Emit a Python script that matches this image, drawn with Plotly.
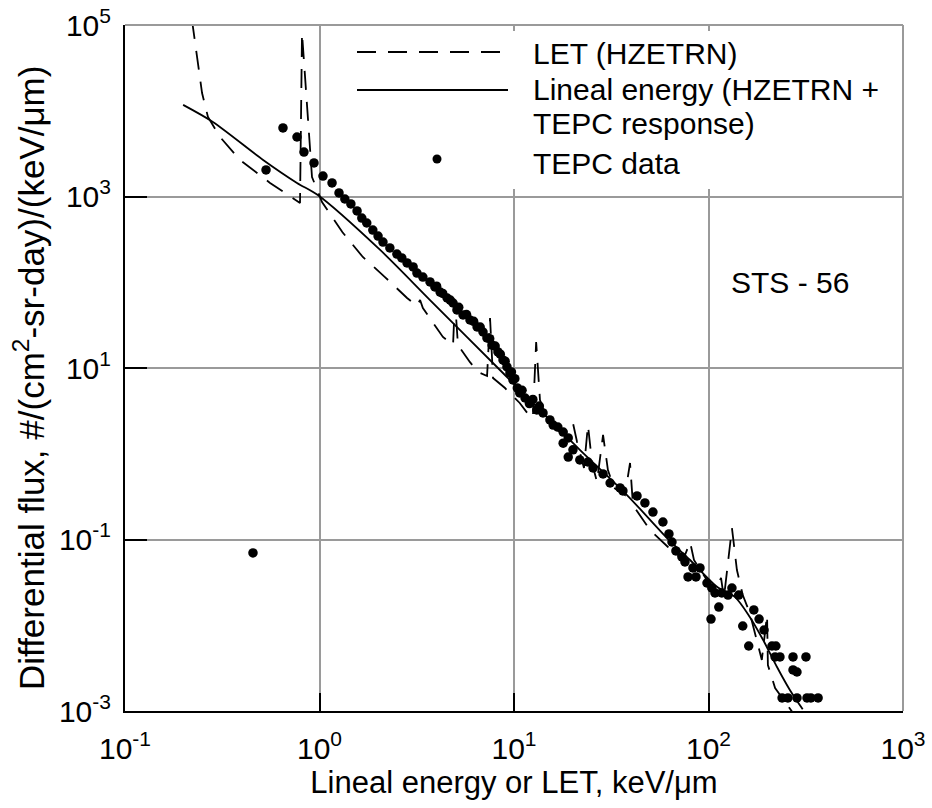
import plotly.graph_objects as go

# ---------------- data ----------------
# LET (HZETRN) - dashed curve
let_x = [0.221, 0.2344, 0.249, 0.267, 0.308, 0.390, 0.557, 0.794, 0.813, 0.915, 1.03,
         1.31, 1.67, 2.17, 2.82, 3.17, 3.29, 3.40, 4.31, 4.86, 4.97, 5.15, 5.94, 6.53,
         7.27, 7.53, 7.80, 8.99, 10.7, 11.7, 12.5, 13.0, 13.6, 14.8, 17.2, 20.1, 21.1,
         22.9, 24.0, 25.2, 26.7, 28.7, 30.4, 32.7, 37.2, 39.5, 40.9, 50.0, 61.9, 74.0,
         80.4, 84.2, 102, 109, 116, 120, 132, 140, 150, 163, 188, 200, 202, 220, 279]
let_y = [114000, 42400, 16100, 8460, 4940, 2670, 1440, 840, 80700, 1690, 863,
         385, 197, 115, 65.5, 52.9, 62.1, 50.1, 23.0, 18.5, 62.1, 18.5, 11.7, 8.98,
         8.07, 38.3, 7.64, 5.84, 3.91, 2.99, 2.61, 20.1, 4.24, 2.48, 1.79, 2.28, 1.37,
         0.682, 2.16, 0.780, 0.469, 1.66, 0.646, 0.399, 0.330, 0.780, 0.252, 0.129, 0.0818, 0.0577,
         0.0935, 0.0577, 0.0294, 0.0258, 0.0356, 0.0208, 0.136, 0.0441, 0.0225, 0.0139, 0.00394,
         0.0132, 0.00344, 0.00185, 0.000875]

# Lineal energy (HZETRN + TEPC response) - solid curve
lin_x = [0.199, 0.283, 0.513, 0.766, 0.98, 2.05, 3.70, 8.27, 21.8, 38.1, 61.2, 80.4,
         111, 137, 163, 191, 225, 262, 305]
lin_y = [11700, 7390, 2670, 1440, 1040, 238, 62.0, 10.0, 1.11, 0.330, 0.104, 0.0577,
         0.0279, 0.0213, 0.0125, 0.00673, 0.00326, 0.00176, 0.00105]

# TEPC data - dots
tepc_x = [0.455, 0.531, 0.649, 0.766, 0.832, 0.937, 1.042, 1.16, 1.26, 1.35, 1.45, 1.56,
          1.65, 1.75, 1.88, 2.0, 2.12, 2.30, 2.50, 2.65, 2.82, 3.03, 3.17, 3.40, 3.70,
          3.92, 4.0, 4.17, 4.3, 4.53, 4.7, 4.86, 5.09, 5.2, 5.47, 5.7, 5.94, 6.2, 6.46,
          6.7, 6.93, 7.26, 7.5, 7.71, 8.0, 8.27, 8.5, 8.78, 9.0, 9.20, 9.53, 9.7, 9.88,
          10.1, 10.4, 10.7, 11.0, 11.4, 12.0, 12.5, 13.1, 13.5, 14.1, 15.3, 15.9, 16.8,
          17.9, 19.0, 17.9, 20.1, 19.0, 21.8, 24.0, 25.5, 28.7, 31.2, 35.1, 36.3, 42.9,
          47.1, 51.8, 58.3, 62.6, 64.9, 68.0, 73.0, 75.7, 83.2, 90.4, 78.5, 86.2, 98.2,
          104, 108, 117, 126, 132, 143, 113, 103, 171, 182, 193, 150, 161, 212, 222,
          220, 233, 272, 317, 272, 285, 239, 256, 285, 321, 336, 366]
tepc_y = [0.0697, 2040, 6300, 4940, 3300, 2460, 1730, 1440, 1100, 935, 818, 678,
          561, 491, 406, 346, 294, 251, 213, 192, 168, 151, 128, 115, 101,
          88.1, 90, 76.9, 74, 65.5, 62, 57.3, 47.5, 51, 41.5, 42, 36.3, 35, 30.1,
          30, 26.3, 22.4, 22, 18.5, 18, 15.4, 14.5, 12.4, 12, 10.3, 8.75, 9.0, 7.25,
          7.5, 5.85, 5.11, 5.5, 4.47, 3.85, 4.3, 3.24, 3.6, 2.99, 2.48, 2.16, 2.05,
          1.79, 1.53, 1.33, 1.11, 0.916, 0.846, 0.801, 0.682, 0.581, 0.456, 0.399, 0.368, 0.322,
          0.267, 0.209, 0.160, 0.116, 0.0935, 0.0735, 0.0625, 0.0547, 0.0466, 0.0466, 0.0366, 0.0366, 0.0311,
          0.0272, 0.0238, 0.0238, 0.0225, 0.0272, 0.0225, 0.0163, 0.0118, 0.0151, 0.0118, 0.0088, 0.0098, 0.00573, 0.00573, 0.00573,
          0.00427, 0.00427, 0.00427, 0.00427, 0.00301, 0.00285, 0.00142, 0.00142, 0.00142, 0.00142, 0.00142, 0.00142]

x_tickvals = [0.1, 1, 10, 100, 1000]
x_ticktext = ["10<sup>-1</sup>", "10<sup>0</sup>", "10<sup>1</sup>", "10<sup>2</sup>", "10<sup>3</sup>"]
y_tickvals = [0.001, 0.1, 10, 1000, 100000]
y_ticktext = ["10<sup>-3</sup>", "10<sup>-1</sup>", "10<sup>1</sup>", "10<sup>3</sup>", "10<sup>5</sup>"]

legend_labels = ["LET (HZETRN)", "Lineal energy (HZETRN +", "TEPC response)", "TEPC data"]
panel_label = "STS - 56"
x_title = "Lineal energy or LET, keV/\u03bcm"
y_title = "Differential flux, #/(cm<sup>2</sup>-sr-day)/(keV/\u03bcm)"

# ---------------- figure ----------------
FONT = "Liberation Sans, Arial, Helvetica, sans-serif"
DASH = "19px,12px"

fig = go.Figure()
fig.add_trace(go.Scatter(x=let_x, y=let_y, mode="lines",
                         line=dict(color="black", width=1.8, dash=DASH),
                         name=legend_labels[0]))
fig.add_trace(go.Scatter(x=lin_x, y=lin_y, mode="lines",
                         line=dict(color="black", width=1.8, shape="spline", smoothing=0.8),
                         name="Lineal energy"))
fig.add_trace(go.Scatter(x=tepc_x, y=tepc_y, mode="markers",
                         marker=dict(color="black", size=9.5),
                         name=legend_labels[3]))

W, H = 932, 808
ml, mr, mt, mb = 125, 29, 25, 97
pw, ph = W - ml - mr, H - mt - mb


def px(xp):
    return (xp - ml) / pw


def py(yp):
    return (H - mb - yp) / ph


shapes = [
    # grey frame on top and right
    dict(type="line", xref="paper", yref="paper", x0=0, x1=1, y0=1, y1=1,
         line=dict(color="#9a9a9a", width=2), layer="above"),
    dict(type="line", xref="paper", yref="paper", x0=1, x1=1, y0=0, y1=1,
         line=dict(color="#9a9a9a", width=2), layer="above"),
    # legend background
    dict(type="rect", xref="paper", yref="paper", x0=px(345), x1=px(896), y0=py(189), y1=py(31),
         fillcolor="white", line=dict(width=0), layer="above"),
    # legend samples
    dict(type="line", xref="paper", yref="paper", x0=px(357), x1=px(505), y0=py(52), y1=py(52),
         line=dict(color="black", width=1.8, dash=DASH), layer="above"),
    dict(type="line", xref="paper", yref="paper", x0=px(357), x1=px(508), y0=py(90), y1=py(90),
         line=dict(color="black", width=1.8), layer="above"),
    dict(type="circle", xref="paper", yref="paper", xsizemode="pixel", ysizemode="pixel",
         xanchor=px(437), yanchor=py(159), x0=-4.5, x1=4.5, y0=-4.5, y1=4.5,
         fillcolor="black", line=dict(width=0), layer="above"),
]

ann_font = dict(family=FONT, size=30, color="black")
annotations = [
    dict(text=legend_labels[0], x=px(531), y=py(54), xref="paper", yref="paper",
         xanchor="left", yanchor="middle", showarrow=False, font=ann_font),
    dict(text=legend_labels[1], x=px(531), y=py(90), xref="paper", yref="paper",
         xanchor="left", yanchor="middle", showarrow=False, font=ann_font),
    dict(text=legend_labels[2], x=px(531), y=py(124), xref="paper", yref="paper",
         xanchor="left", yanchor="middle", showarrow=False, font=ann_font),
    dict(text=legend_labels[3], x=px(531), y=py(164), xref="paper", yref="paper",
         xanchor="left", yanchor="middle", showarrow=False, font=ann_font),
    dict(text=panel_label, x=px(790), y=py(282), xref="paper", yref="paper",
         xanchor="center", yanchor="middle", showarrow=False, font=ann_font),
    # y-axis title
    dict(text=y_title, x=px(29), y=py(378), xref="paper", yref="paper", textangle=-90,
         xanchor="center", yanchor="middle", showarrow=False,
         font=dict(family=FONT, size=35, color="black")),
]

fig.update_layout(
    width=W, height=H,
    margin=dict(l=ml, r=mr, t=mt, b=mb, pad=0, autoexpand=False),
    paper_bgcolor="white", plot_bgcolor="white",
    showlegend=False,
    font=dict(family=FONT, size=30, color="black"),
    shapes=shapes, annotations=annotations,
)

fig.update_xaxes(
    type="log", range=[-1, 3], automargin=False,
    tickvals=x_tickvals, ticktext=x_ticktext,
    ticks="inside", ticklen=18, tickwidth=2, tickcolor="black",
    showline=True, linecolor="black", linewidth=2, mirror=False,
    showgrid=True, gridcolor="#9a9a9a", gridwidth=2,
    zeroline=False,
    tickfont=dict(family=FONT, size=30, color="black"),
    ticklabelstandoff=10,
    title=dict(text=x_title, font=dict(family=FONT, size=31), standoff=2),
)
fig.update_yaxes(
    type="log", range=[-3, 5], automargin=False,
    tickvals=y_tickvals, ticktext=y_ticktext,
    ticks="inside", ticklen=22, tickwidth=2, tickcolor="black",
    showline=True, linecolor="black", linewidth=2, mirror=False,
    showgrid=True, gridcolor="#9a9a9a", gridwidth=2,
    zeroline=False,
    tickfont=dict(family=FONT, size=30, color="black"),
    ticklabelstandoff=6,
)

fig.write_html("out.html", config={"displayModeBar": False},
               post_script="document.body.style.margin='0';document.body.style.padding='0';")
